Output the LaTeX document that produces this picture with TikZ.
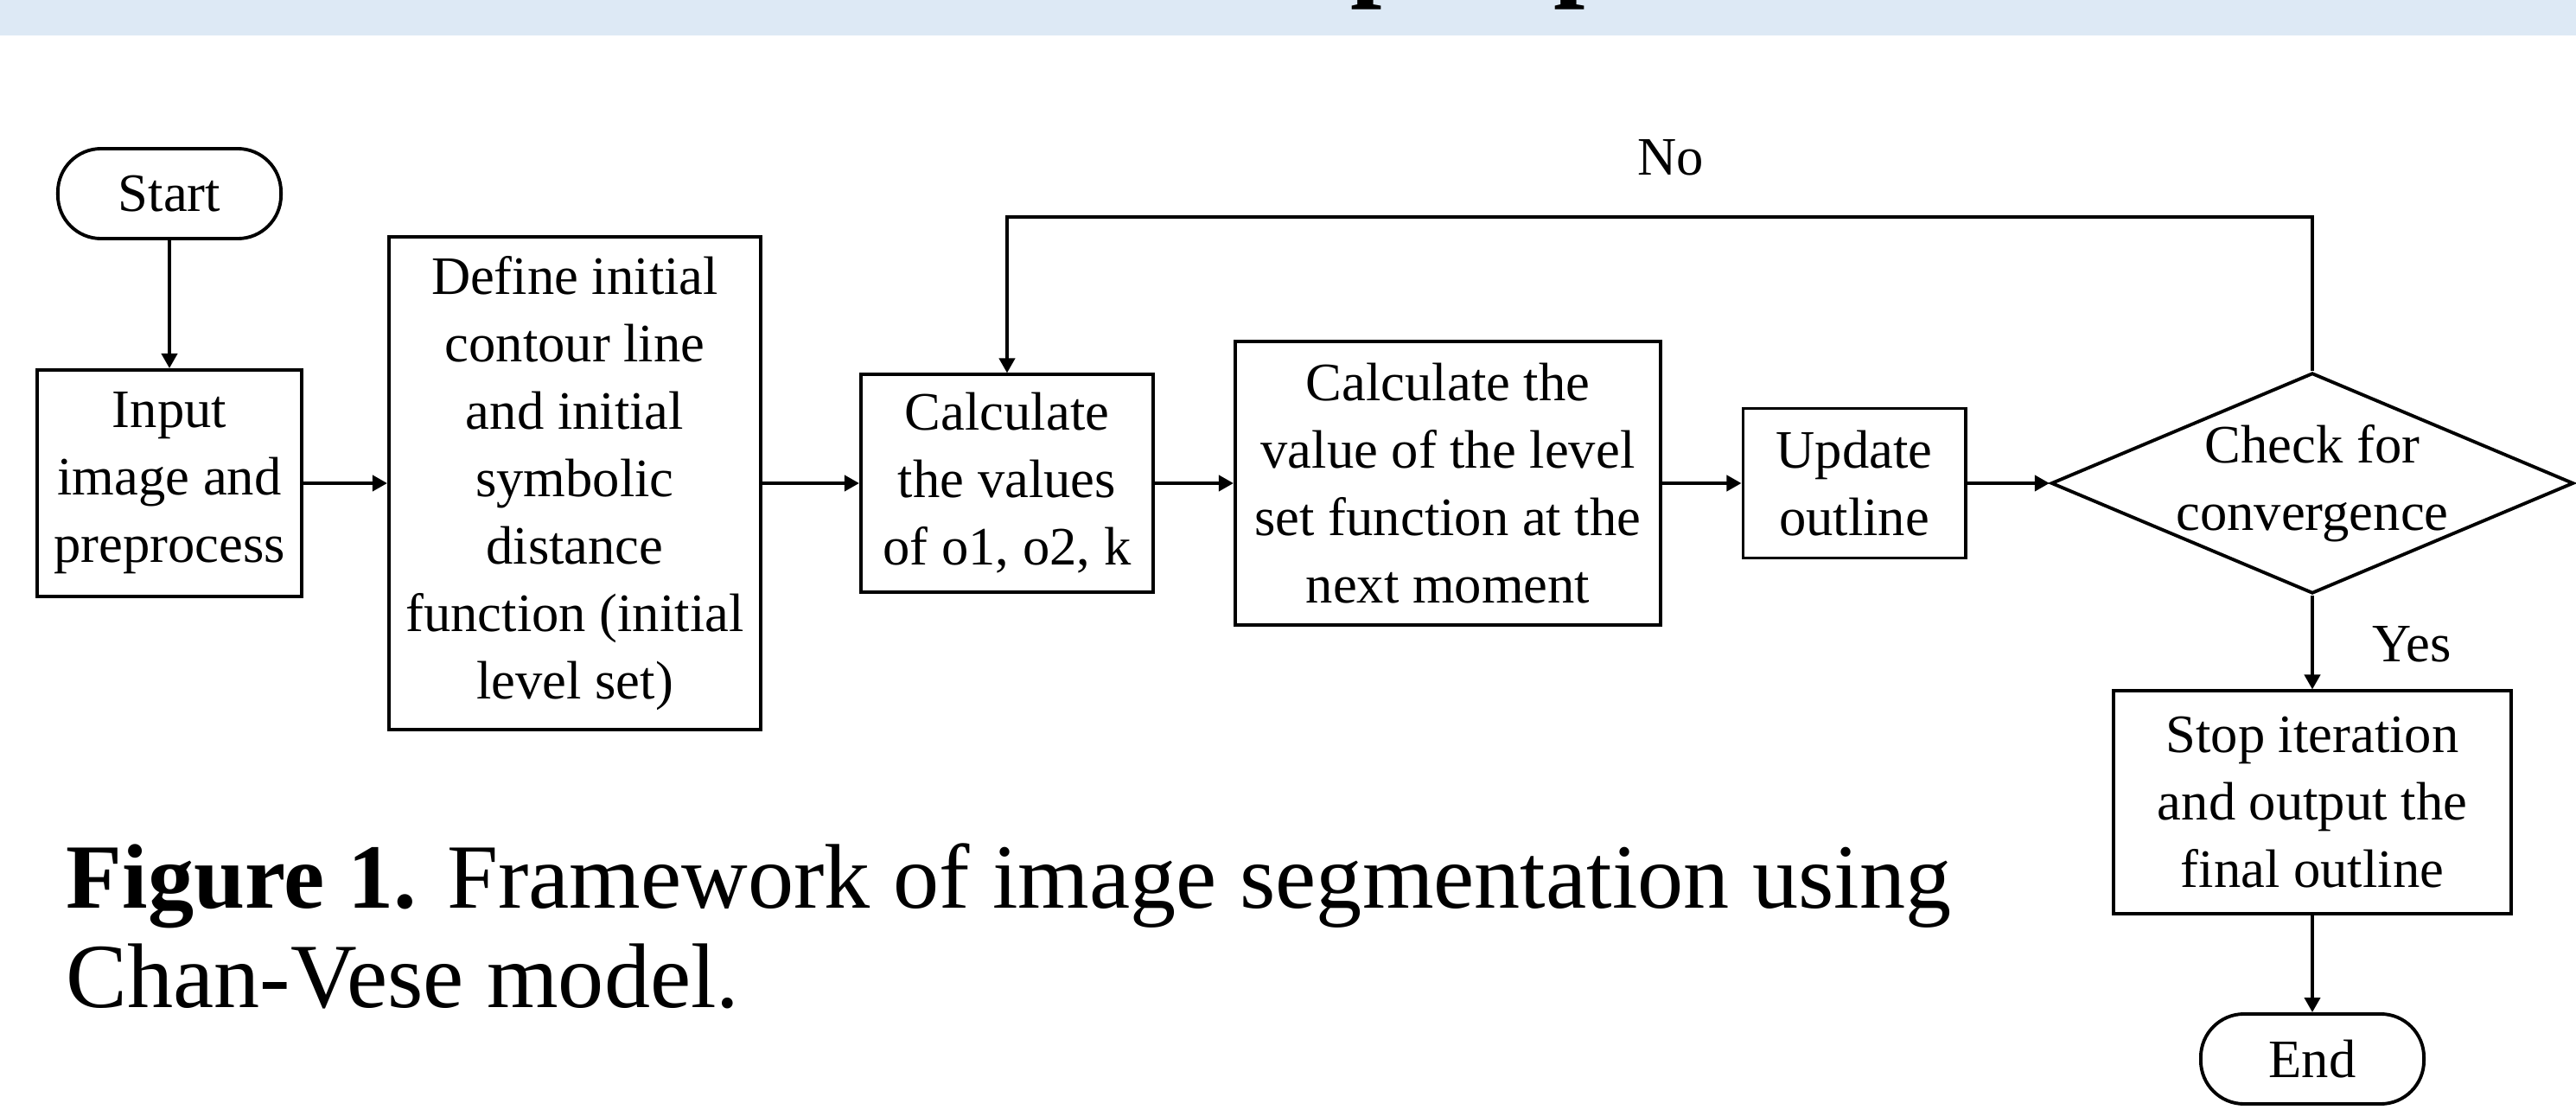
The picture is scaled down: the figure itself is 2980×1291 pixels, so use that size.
\documentclass[tikz,border=0pt]{standalone}
\usepackage{fontspec}
\setmainfont{Liberation Serif}
\usepackage{tikz}
\usetikzlibrary{shapes.geometric,arrows.meta}
\definecolor{bandBlue}{RGB}{221,233,245}
\newcommand{\boxFont}[0]{\fontsize{17.8}{22.2}\selectfont}
\newcommand{\captionFont}[0]{\fontsize{30.2}{32.4}\selectfont}

\begin{document}
\begin{tikzpicture}[x=0.01cm, y=-0.01cm]
  \tikzset{every node/.style={font=\boxFont},
    process/.style={draw, line width=1.1pt, align=center, inner sep=0pt},
    terminal/.style={process, rounded corners=0.5cm, minimum width=2.58cm, minimum height=1.04cm},
    decision/.style={draw, line width=1.1pt, diamond, inner sep=0pt, minimum width=6.04cm, minimum height=2.55cm},
    flow/.style={line width=1.1pt, -{Triangle[length=0.17cm,width=0.18cm]}}}
  \useasboundingbox (0,0) rectangle (2980,1291);
  \fill[bandBlue] (0,0) rectangle (2980,41);
  \begin{scope}
    \clip (0,0) rectangle (2980,41);
    \node[font=\bfseries\fontsize{37}{40}\selectfont, anchor=base west, inner sep=0pt] (titleP) at (1562,-16) {p};
    \node[font=\bfseries\fontsize{37}{40}\selectfont, anchor=base west, inner sep=0pt] (titlePP) at (1797,-16) {p};
  \end{scope}

  \node[terminal] (start) at (196,224) {Start};
  \node[process, minimum width=3.06cm, minimum height=2.62cm] (input) at (196,559) {Input\\image and\\preprocess};
  \node[process, minimum width=4.30cm, minimum height=5.70cm] (define) at (665,559)
    {Define initial\\contour line\\and initial\\symbolic\\distance\\function (initial\\level set)};
  \node[process, minimum width=3.38cm, minimum height=2.51cm] (calc) at (1165,559) {Calculate\\the values\\of o1, o2, k};
  \node[process, minimum width=4.92cm, minimum height=3.27cm] (nextval) at (1675,559)
    {Calculate the\\value of the level\\set function at the\\next moment};
  \node[process, minimum width=2.57cm, minimum height=1.73cm] (update) at (2145,559) {Update\\outline};
  \node[decision] (check) at (2675,559) {};
  \node[align=center, inner sep=0pt] (checkText) at (check.center) {Check for\\convergence};
  \node[process, minimum width=4.60cm, minimum height=2.57cm] (stop) at (2675,928)
    {Stop iteration\\and output the\\final outline};
  \node[terminal] (finish) at (2675,1225) {End};
  \coordinate (loopTop) at (2675,251);
  \node (noLabel) at (1933,182) {No};
  \node (yesLabel) at (2790,745) {Yes};

  \draw[flow] (start) -- (input);
  \draw[flow] (input) -- (define);
  \draw[flow] (define) -- (calc);
  \draw[flow] (calc) -- (nextval);
  \draw[flow] (nextval) -- (update);
  \draw[flow] (update) -- (check);
  \draw[flow] (check.north) -- (loopTop) -| (calc.north);
  \draw[flow] (check.south) -- (stop);
  \draw[flow] (stop) -- (finish);

  \node[font=\captionFont, anchor=base west, inner sep=0pt] (captionA) at (76,1050)
    {\textbf{Figure 1.} Framework of image segmentation using};
  \node[font=\captionFont, anchor=base west, inner sep=0pt] (captionB) at (76,1165) {Chan-Vese model.};
\end{tikzpicture}
\end{document}
